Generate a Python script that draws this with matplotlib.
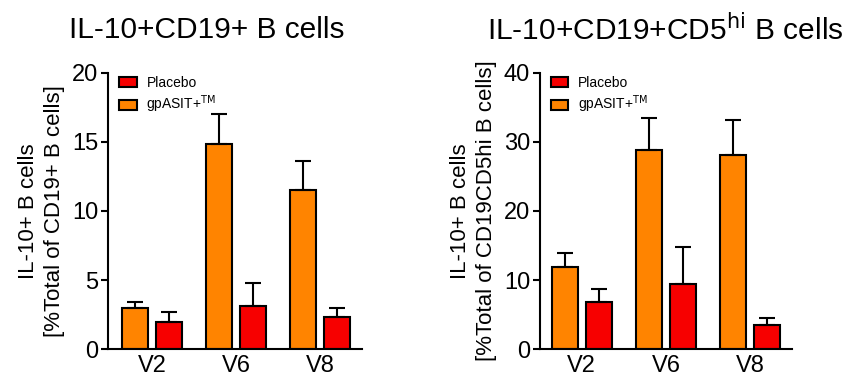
import matplotlib.pyplot as plt
import numpy as np

plt.rcParams['font.family'] = ['Liberation Sans', 'DejaVu Sans']

visits = ["V2", "V6", "V8"]
series = ["Placebo", "gpASIT+$^{\\mathrm{TM}}$"]

# IL-10+CD19+ B cells
cd19_placebo = [1.95, 3.1, 2.35]
cd19_placebo_err = [0.7, 1.65, 0.6]
cd19_gpasit = [3.0, 14.85, 11.55]
cd19_gpasit_err = [0.4, 2.2, 2.1]

# IL-10+CD19+CD5hi B cells
cd5_placebo = [6.85, 9.4, 3.5]
cd5_placebo_err = [1.85, 5.35, 0.95]
cd5_gpasit = [11.95, 28.85, 28.1]
cd5_gpasit_err = [2.0, 4.6, 5.15]

ORANGE = "#FF8400"
RED = "#F70000"


def draw_panel(ax, placebo, placebo_err, gpasit, gpasit_err, ymax, ystep, ylabel, xlim_left):
    x = np.arange(len(visits))
    w = 0.31
    eb = dict(ecolor="black", elinewidth=1.5, capsize=5.5, capthick=1.5)
    ax.bar(x - 0.2, gpasit, w, color=ORANGE, edgecolor="black", linewidth=1.5,
           yerr=[np.zeros(3), gpasit_err], error_kw=eb, label=series[1], zorder=2)
    ax.bar(x + 0.2, placebo, w, color=RED, edgecolor="black", linewidth=1.5,
           yerr=[np.zeros(3), placebo_err], error_kw=eb, label=series[0], zorder=2)
    ax.set_xlim(xlim_left, 2.5)
    ax.set_ylim(0, ymax)
    ax.set_yticks(np.arange(0, ymax + 1, ystep))
    ax.set_xticks(x)
    ax.set_xticklabels(visits, fontsize=17)
    ax.tick_params(axis="x", length=0, pad=4)
    ax.tick_params(axis="y", labelsize=17, width=1.5, length=5, direction="out", pad=2)
    for s in ["top", "right"]:
        ax.spines[s].set_visible(False)
    for s in ["left", "bottom"]:
        ax.spines[s].set_linewidth(1.5)
    ax.set_ylabel(ylabel, fontsize=16, labelpad=5, linespacing=1.3)
    handles, labels = ax.get_legend_handles_labels()
    ax.legend(handles[::-1], labels[::-1], loc="upper left", frameon=False,
              fontsize=10, handlelength=1.25, handleheight=0.75, handletextpad=0.7,
              borderpad=0, borderaxespad=0, bbox_to_anchor=(0.045, 0.99),
              labelspacing=0.3)


fig = plt.figure(figsize=(8.5, 3.9), dpi=100)
ax1 = fig.add_axes([0.127, 0.105, 0.299, 0.708])
ax2 = fig.add_axes([0.635, 0.105, 0.297, 0.708])

draw_panel(ax1, cd19_placebo, cd19_placebo_err, cd19_gpasit, cd19_gpasit_err,
           20, 5, "IL-10+ B cells\n[%Total of CD19+ B cells]", -0.524)
draw_panel(ax2, cd5_placebo, cd5_placebo_err, cd5_gpasit, cd5_gpasit_err,
           40, 10, "IL-10+ B cells\n[%Total of CD19CD5hi B cells]", -0.5)

fig.text(0.243, 0.922, "IL-10+CD19+ B cells", fontsize=21.5, ha="center", va="center")
fig.text(0.783, 0.922, "IL-10+CD19+CD5$^{\\mathrm{hi}}$ B cells", fontsize=21.5,
         ha="center", va="center")

fig.savefig("out.png", dpi=100)
